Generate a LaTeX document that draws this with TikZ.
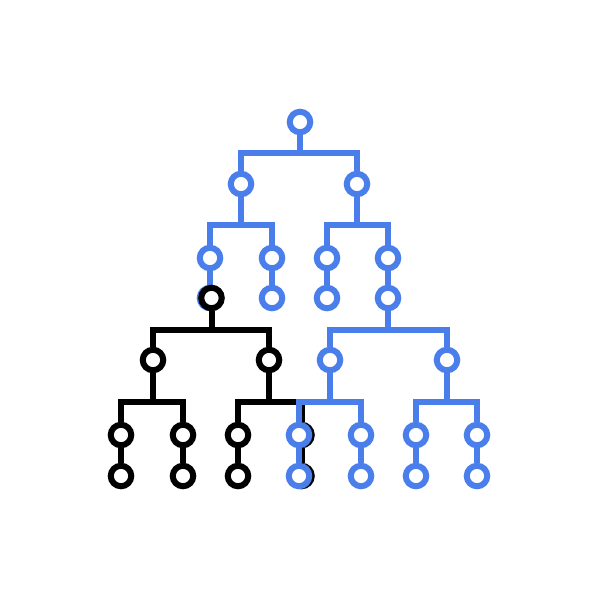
\documentclass[tikz,border=0pt]{standalone}
\definecolor{treeblue}{HTML}{4A7FEB}
\tikzset{
  knot/.style={circle,draw,fill=white,line width=6pt,minimum size=20.5pt,inner sep=0pt},
  twig/.style={line width=6pt,line join=miter},
}
\begin{document}
\begin{tikzpicture}[x=1pt,y=-1pt]
	\useasboundingbox (0,0) rectangle (600,600);
	\coordinate (bar1) at (0,153);
	\coordinate (bar2) at (0,225);
	\coordinate (bar3) at (0,330);
	\coordinate (bar4) at (0,402);
	% upper blue tree
	\begin{scope}[color=treeblue]
		\node[knot] (u) at (300,122) {};
		\node[knot] (u1) at (241,184) {};
		\node[knot] (u2) at (357,184) {};
		\node[knot] (u11) at (210,258) {};
		\node[knot] (u12) at (272,258) {};
		\node[knot] (u21) at (327,258) {};
		\node[knot] (u22) at (388,258) {};
		\node[knot] (cu11) at (210,298) {};
		\node[knot] (cu12) at (272,298) {};
		\node[knot] (cu21) at (327,298) {};
		\node[knot] (cu22) at (388,298) {};
		\foreach \p/\a/\b/\y in {u/u1/u2/bar1,u1/u11/u12/bar2,u2/u21/u22/bar2}{
			\draw[twig] (\p) -- (\p |- \y);
			\draw[twig] (\a) -- (\a |- \y) -- (\b |- \y) -- (\b);
		}
		\foreach \a in {u11,u12,u21,u22}
			\draw[twig] (\a) -- (c\a);
	\end{scope}
	% black tree
	\node[knot] (k) at (211.5,298) {};
	\node[knot] (k1) at (153,360) {};
	\node[knot] (k2) at (269,360) {};
	\node[knot] (k11) at (121,435) {};
	\node[knot] (k12) at (183,435) {};
	\node[knot] (k21) at (238,435) {};
	\node[knot] (k22) at (301.5,435) {};
	\node[knot] (ck11) at (121,476) {};
	\node[knot] (ck12) at (183,476) {};
	\node[knot] (ck21) at (238,476) {};
	\node[knot] (ck22) at (301.5,476) {};
	\foreach \p/\a/\b/\y in {k/k1/k2/bar3,k1/k11/k12/bar4,k2/k21/k22/bar4}{
		\draw[twig] (\p) -- (\p |- \y);
		\draw[twig] (\a) -- (\a |- \y) -- (\b |- \y) -- (\b);
	}
	\foreach \a in {k11,k12,k21,k22}
		\draw[twig] (\a) -- (c\a);
	% lower blue tree
	\begin{scope}[color=treeblue]
		\node[knot] (v1) at (330,360) {};
		\node[knot] (v2) at (447,360) {};
		\node[knot] (v11) at (299,435) {};
		\node[knot] (v12) at (361,435) {};
		\node[knot] (v21) at (416,435) {};
		\node[knot] (v22) at (477,435) {};
		\node[knot] (cv11) at (299,476) {};
		\node[knot] (cv12) at (361,476) {};
		\node[knot] (cv21) at (416,476) {};
		\node[knot] (cv22) at (477,476) {};
		\foreach \p/\a/\b/\y in {cu22/v1/v2/bar3,v1/v11/v12/bar4,v2/v21/v22/bar4}{
			\draw[twig] (\p) -- (\p |- \y);
			\draw[twig] (\a) -- (\a |- \y) -- (\b |- \y) -- (\b);
		}
		\foreach \a in {v11,v12,v21,v22}
			\draw[twig] (\a) -- (c\a);
	\end{scope}
\end{tikzpicture}
\end{document}
